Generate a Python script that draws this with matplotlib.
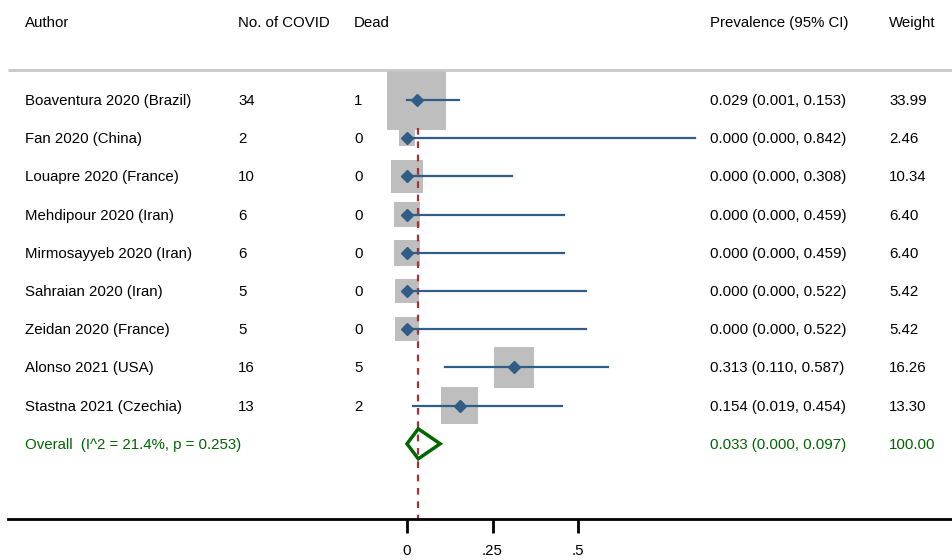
import numpy as np
import matplotlib.pyplot as plt
from matplotlib.patches import Rectangle, Polygon

plt.rcParams['font.family'] = ['Liberation Sans', 'DejaVu Sans']

authors = ['Boaventura 2020 (Brazil)', 'Fan 2020 (China)', 'Louapre 2020 (France)',
           'Mehdipour 2020 (Iran)', 'Mirmosayyeb 2020 (Iran)', 'Sahraian 2020 (Iran)',
           'Zeidan 2020 (France)', 'Alonso 2021 (USA)', 'Stastna 2021 (Czechia)']
n_covid = [34, 2, 10, 6, 6, 5, 5, 16, 13]
dead = [1, 0, 0, 0, 0, 0, 0, 5, 2]
est = [0.029, 0.000, 0.000, 0.000, 0.000, 0.000, 0.000, 0.313, 0.154]
lo = [0.001, 0.000, 0.000, 0.000, 0.000, 0.000, 0.000, 0.110, 0.019]
hi = [0.153, 0.842, 0.308, 0.459, 0.459, 0.522, 0.522, 0.587, 0.454]
weight = [33.99, 2.46, 10.34, 6.40, 6.40, 5.42, 5.42, 16.26, 13.30]
overall = (0.033, 0.000, 0.097)
overall_label = 'Overall  (I^2 = 21.4%, p = 0.253)'
xticks = [0, 0.25, 0.5]
xticklabels = ['0', '.25', '.5']

# layout: x pixel = 407 + 342*value, y in pixels (top = 0)
X0, SC = 407, 342
def px(x):
    return (x - X0) / SC

fig = plt.figure(figsize=(9.53, 5.6), dpi=100)
ax = fig.add_axes([0, 0, 1, 1])
ax.set_xlim(px(0), px(953))
ax.set_ylim(560, 0)

blue = '#2f5d85'
green = '#006400'
fs = 10.8

# header
hy = 23
for x, t in [(25, 'Author'), (238, 'No. of COVID'), (354, 'Dead'),
             (710, 'Prevalence (95% CI)'), (889, 'Weight')]:
    ax.text(px(x), hy, t, fontsize=fs, va='center', ha='left')
ax.plot([px(8), px(953)], [70, 70], color='#c8c8c8', lw=2, solid_capstyle='butt')

rows_y = [100 + 38.2 * i for i in range(len(authors))]
wmax = max(weight)
for i, y in enumerate(rows_y):
    side = 59 * np.sqrt(weight[i] / wmax)
    ax.add_patch(Rectangle((est[i] - side / 2 / SC, y - side / 2), side / SC, side,
                           facecolor='#bebebe', edgecolor='none', zorder=1))
for i, y in enumerate(rows_y):
    ty = y + 1
    ax.plot([lo[i], hi[i]], [y, y], color=blue, lw=1.6, zorder=3)
    ax.plot(est[i], y, marker='D', color=blue, ms=6.5, zorder=4)
    ax.text(px(25), ty, authors[i], fontsize=fs, va='center')
    ax.text(px(238), ty, str(n_covid[i]), fontsize=fs, va='center')
    ax.text(px(354), ty, str(dead[i]), fontsize=fs, va='center')
    ax.text(px(710), ty, '%.3f (%.3f, %.3f)' % (est[i], lo[i], hi[i]), fontsize=fs, va='center')
    ax.text(px(889), ty, '%.2f' % weight[i], fontsize=fs, va='center')

# overall
oy = rows_y[-1] + 38.2
e, l, h = overall
ax.add_patch(Polygon([(l, oy), (e, oy - 15), (h, oy), (e, oy + 15)], closed=True,
                     fill=False, edgecolor=green, lw=2.5, zorder=4))
ax.text(px(25), oy + 1, overall_label, fontsize=fs, va='center', color=green)
ax.text(px(710), oy + 1, '%.3f (%.3f, %.3f)' % overall, fontsize=fs, va='center', color=green)
ax.text(px(889), oy + 1, '100.00', fontsize=fs, va='center', color=green)

ax.plot([e, e], [128, 519], color='#a83232', lw=1.6, ls=(0, (3, 3)), zorder=2)

# x axis
for s in ['top', 'right', 'left']:
    ax.spines[s].set_visible(False)
ax.spines['bottom'].set_position(('data', 519))
ax.spines['bottom'].set_linewidth(2)
ax.spines['bottom'].set_bounds(px(8), px(953))
ax.set_xticks(xticks)
ax.set_xticklabels(xticklabels, fontsize=fs)
ax.tick_params(axis='x', length=10, width=2, pad=8)
ax.set_yticks([])

fig.savefig('out.png', dpi=100)
